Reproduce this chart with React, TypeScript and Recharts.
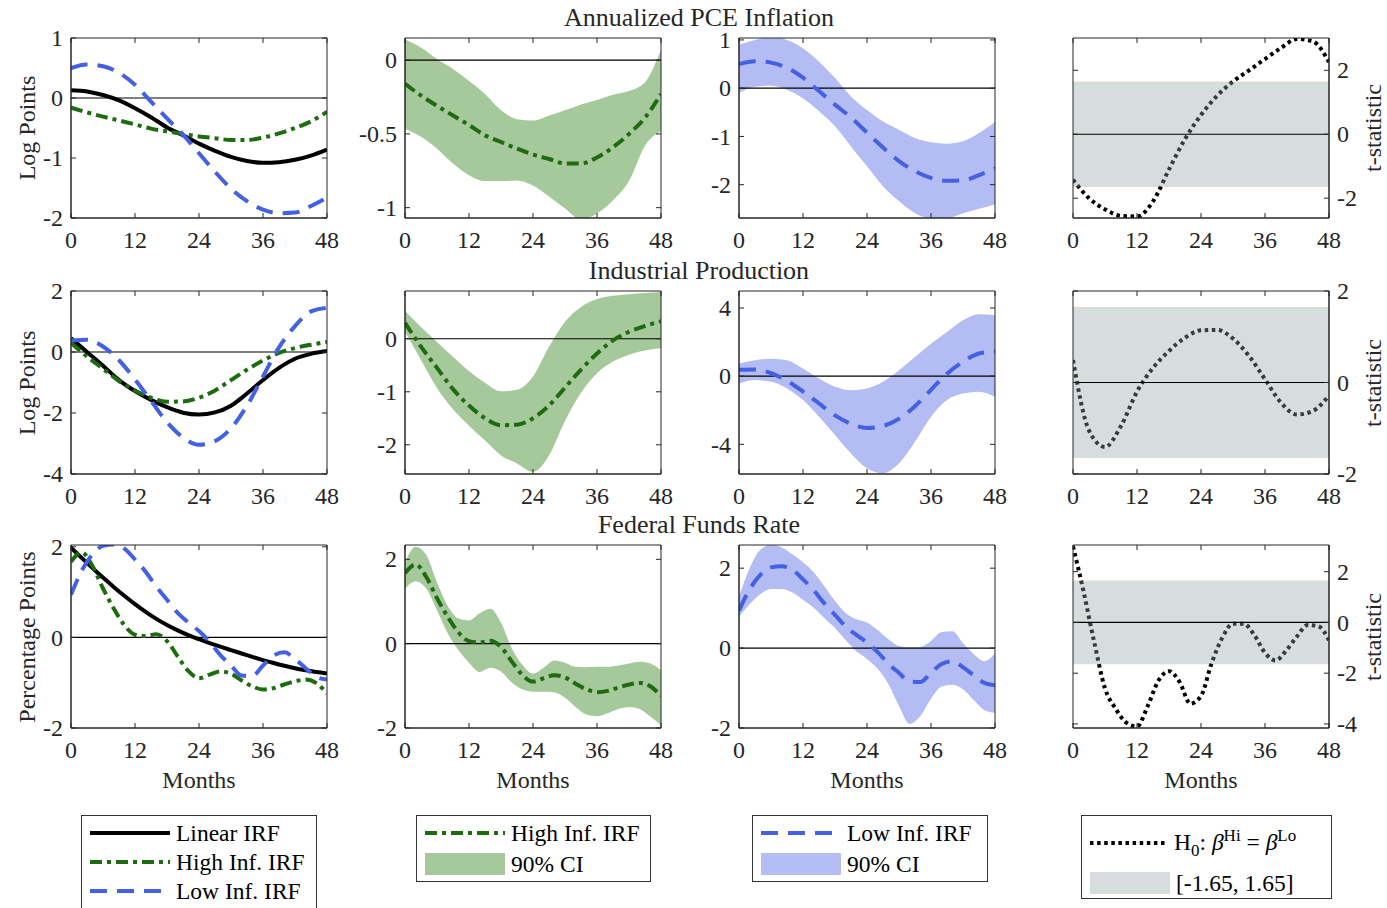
import React from 'react';
import { ComposedChart, Line, Area, XAxis, YAxis, ReferenceLine, ReferenceArea } from 'recharts';

const FONT = "'Liberation Serif', 'Times New Roman', serif";
const AX = '#262626';
const GREEN = '#1E6B10';
const BLUE = '#4561E3';
const GREEN_FILL = '#A6C99C';
const BLUE_FILL = '#B3BCF3';
const BAND_FILL = 'rgb(140,165,159)';
const BAND_OP = 0.37;

// ---------- data ----------
const monthsA = [0, 3, 6, 9, 12, 15, 18, 21, 24, 27, 30, 33, 36, 39, 42, 45, 48];
const monthsB = [0, 2, 4, 6, 8, 10, 12, 14, 16, 18, 20, 22, 24, 26, 28, 30, 32, 34, 36, 38, 40, 42, 44, 46, 48];
const xTicks = [0, 12, 24, 36, 48];
const bandLimits = [-1.65, 1.65];

// Annualized PCE Inflation
const pceLinear = [0.13, 0.11, 0.05, -0.04, -0.17, -0.32, -0.49, -0.62, -0.76, -0.88, -0.98, -1.05, -1.08, -1.07, -1.03, -0.96, -0.86];
const pceHigh = [-0.16, -0.24, -0.31, -0.375, -0.44, -0.51, -0.555, -0.6, -0.64, -0.67, -0.7, -0.7, -0.66, -0.59, -0.5, -0.39, -0.23];
const pceLow = [0.5, 0.56, 0.53, 0.42, 0.22, -0.06, -0.34, -0.61, -0.92, -1.23, -1.51, -1.72, -1.86, -1.92, -1.91, -1.8, -1.66];
const pceHighLo = [-0.465, -0.52, -0.6, -0.7, -0.78, -0.82, -0.82, -0.815, -0.85, -0.925, -1.005, -1.08, -1.04, -0.95, -0.82, -0.58, -0.48];
const pceHighHi = [0.14, 0.085, 0.007, -0.06, -0.14, -0.23, -0.34, -0.4, -0.41, -0.375, -0.34, -0.3, -0.27, -0.235, -0.21, -0.15, 0.07];
const pceLowLo = [-0.1, 0.03, 0.05, -0.03, -0.21, -0.48, -0.79, -1.21, -1.62, -2.03, -2.34, -2.59, -2.69, -2.69, -2.59, -2.5, -2.41];
const pceLowHi = [0.9, 1.0, 1.06, 1.0, 0.83, 0.55, 0.21, -0.17, -0.45, -0.69, -0.86, -1.03, -1.12, -1.15, -1.1, -0.93, -0.7];
const pceT = [-1.42, -2.0, -2.35, -2.55, -2.57, -2.1, -1.1, -0.15, 0.6, 1.2, 1.65, 2.0, 2.35, 2.7, 2.98, 2.9, 2.26];

// Industrial Production
const ipLinear = [0.45, 0.0, -0.45, -0.92, -1.28, -1.57, -1.81, -1.99, -2.05, -1.98, -1.76, -1.36, -0.92, -0.52, -0.22, -0.06, 0.03];
const ipHigh = [0.3, -0.15, -0.55, -0.95, -1.26, -1.5, -1.63, -1.62, -1.5, -1.26, -0.92, -0.58, -0.28, -0.03, 0.13, 0.24, 0.33];
const ipLow = [0.38, 0.4, 0.18, -0.27, -0.9, -1.6, -2.3, -2.8, -3.04, -2.92, -2.5, -1.76, -0.8, 0.15, 0.85, 1.33, 1.45];
const ipHighLo = [0.13, -0.4, -0.93, -1.33, -1.64, -1.92, -2.2, -2.35, -2.51, -2.2, -1.55, -1.02, -0.65, -0.43, -0.3, -0.22, -0.18];
const ipHighHi = [0.53, 0.22, -0.06, -0.34, -0.61, -0.83, -0.99, -0.96, -0.71, -0.15, 0.32, 0.6, 0.75, 0.81, 0.84, 0.86, 0.88];
const ipLowLo = [-0.43, -0.23, -0.33, -0.72, -1.4, -2.38, -3.45, -4.53, -5.4, -5.7, -5.11, -3.84, -2.38, -1.4, -1.01, -0.92, -1.21];
const ipLowHi = [0.74, 0.94, 1.03, 0.94, 0.45, -0.14, -0.62, -0.82, -0.72, -0.33, 0.35, 1.13, 1.91, 2.6, 3.28, 3.63, 3.57];
const ipT = [0.49, -1.05, -1.41, -0.95, -0.2, 0.32, 0.69, 0.98, 1.14, 1.15, 0.96, 0.58, 0.07, -0.44, -0.7, -0.62, -0.28];

// Federal Funds Rate
const ffrLinear = [1.98, 1.755, 1.535, 1.32, 1.115, 0.92, 0.735, 0.565, 0.41, 0.275, 0.155, 0.05, -0.04, -0.125, -0.205, -0.28, -0.355, -0.43, -0.5, -0.565, -0.625, -0.68, -0.725, -0.765, -0.795];
const ffrHigh = [1.67, 1.88, 1.58, 1.08, 0.64, 0.27, 0.06, 0.03, 0.07, -0.08, -0.42, -0.74, -0.9, -0.82, -0.75, -0.8, -0.95, -1.08, -1.15, -1.12, -1.04, -0.97, -0.93, -1.01, -1.24];
const ffrLow = [0.94, 1.47, 1.83, 2.02, 2.05, 1.96, 1.72, 1.45, 1.12, 0.83, 0.54, 0.33, 0.14, -0.1, -0.39, -0.62, -0.84, -0.85, -0.62, -0.4, -0.33, -0.48, -0.68, -0.87, -0.93];
const ffrHighLo = [1.3, 1.48, 1.3, 0.79, 0.25, -0.15, -0.45, -0.67, -0.57, -0.66, -0.92, -1.08, -1.14, -1.14, -1.15, -1.28, -1.5, -1.68, -1.72, -1.65, -1.55, -1.5, -1.55, -1.73, -1.93];
const ffrHighHi = [1.93, 2.3, 2.1, 1.45, 0.9, 0.6, 0.55, 0.72, 0.83, 0.5, -0.1, -0.5, -0.71, -0.57, -0.4, -0.45, -0.55, -0.56, -0.55, -0.55, -0.52, -0.47, -0.43, -0.47, -0.63];
const ffrLowLo = [0.79, 1.1, 1.35, 1.48, 1.48, 1.39, 1.21, 1.01, 0.75, 0.5, 0.2, -0.08, -0.27, -0.52, -0.9, -1.45, -1.9, -1.7, -1.27, -0.96, -0.92, -1.03, -1.3, -1.55, -1.62];
const ffrLowHi = [1.29, 2.0, 2.46, 2.58, 2.52, 2.35, 2.15, 1.9, 1.55, 1.18, 0.88, 0.72, 0.64, 0.45, 0.22, 0.05, 0.02, 0.03, 0.18, 0.4, 0.42, 0.12, -0.15, -0.33, -0.13];
const ffrT = [3.0, 1.2, -0.8, -2.6, -3.4, -3.95, -4.1, -3.3, -2.3, -1.92, -2.35, -3.2, -2.9, -1.6, -0.6, -0.05, -0.05, -0.5, -1.2, -1.5, -1.1, -0.55, -0.1, -0.15, -0.7];

// axis domains / ticks per panel: [irf, high, low, t]
const pceDomains = [[-2, 1], [-1.07, 0.15], [-2.69, 1.04], [-2.62, 3.01]];
const pceTicks = [[-2, -1, 0, 1], [-1, -0.5, 0], [-2, -1, 0, 1], [-2, 0, 2]];
const ipDomains = [[-4, 2], [-2.55, 0.9], [-5.74, 5], [-2, 2]];
const ipTicks = [[-4, -2, 0, 2], [-2, -1, 0], [-4, 0, 4], [-2, 0, 2]];
const ffrDomains = [[-2, 2.04], [-2, 2.34], [-2, 2.58], [-4.16, 3.05]];
const ffrTicks = [[-2, 0, 2], [-2, 0, 2], [-2, 0, 2], [-4, -2, 0, 2]];

const rowTitles = ['Annualized PCE Inflation', 'Industrial Production', 'Federal Funds Rate'];
const rowYLabels = ['Log Points', 'Log Points', 'Percentage Points'];

type Series = {
  linear: number[]; high: number[]; low: number[];
  highLo: number[]; highHi: number[]; lowLo: number[]; lowHi: number[]; t: number[];
};

const buildRows = (months: number[], s: Series) =>
  months.map((m, i) => ({
    m,
    linear: s.linear[i],
    high: s.high[i],
    low: s.low[i],
    highCI: [s.highLo[i], s.highHi[i]],
    lowCI: [s.lowLo[i], s.lowHi[i]],
    t: s.t[i],
  }));

const rowsData = [
  buildRows(monthsA, { linear: pceLinear, high: pceHigh, low: pceLow, highLo: pceHighLo, highHi: pceHighHi, lowLo: pceLowLo, lowHi: pceLowHi, t: pceT }),
  buildRows(monthsA, { linear: ipLinear, high: ipHigh, low: ipLow, highLo: ipHighLo, highHi: ipHighHi, lowLo: ipLowLo, lowHi: ipLowHi, t: ipT }),
  buildRows(monthsB, { linear: ffrLinear, high: ffrHigh, low: ffrLow, highLo: ffrHighLo, highHi: ffrHighHi, lowLo: ffrLowLo, lowHi: ffrLowHi, t: ffrT }),
];
const rowDomains = [pceDomains, ipDomains, ffrDomains];
const rowTicks = [pceTicks, ipTicks, ffrTicks];

// ---------- layout ----------
const COL_LEFT = [71, 405, 739, 1073];
const PLOT_W = 256;
const ROW_TOP = [38, 291, 545];
const ROW_H = [180, 183, 183];
const TICK_FS = 24;
const LABEL_FS = 24;
const TITLE_FS = 26;

const BLUE_DASH = '17 10';
const GREEN_DASH = '12 5 4 5';
const DOT_DASH = '3.5 3.6';

type PanelProps = {
  data: any[];
  left: number;
  top: number;
  h: number;
  kind: 'irf' | 'high' | 'low' | 't';
  domain: number[];
  ticks: number[];
};

const ML = 70;
const MR = 60;
const MT = 20;
const MB = 40;
const TM = 8;
const TL = 5;

function Panel({ data, left, top, h, kind, domain, ticks }: PanelProps) {
  const w = PLOT_W;
  const right = kind === 't';
  const XTick = (p: any) => {
    const base = p.y - TM;
    return (
      <g>
        <line x1={p.x} x2={p.x} y1={base} y2={base - TL} stroke={AX} strokeWidth={1} />
        <line x1={p.x} x2={p.x} y1={base - h} y2={base - h + TL} stroke={AX} strokeWidth={1} />
        <text x={p.x} y={p.y} dy="0.93em" textAnchor="middle" fontFamily={FONT} fontSize={TICK_FS} fill={AX}>
          {p.payload.value}
        </text>
      </g>
    );
  };
  const YTick = (p: any) => {
    const axisX = right ? p.x - TM : p.x + TM;
    const dir = right ? -1 : 1;
    return (
      <g>
        <line x1={axisX} x2={axisX + dir * TL} y1={p.y} y2={p.y} stroke={AX} strokeWidth={1} />
        <line x1={axisX + dir * w} x2={axisX + dir * (w - TL)} y1={p.y} y2={p.y} stroke={AX} strokeWidth={1} />
        <text x={p.x} y={p.y} dy="0.34em" textAnchor={right ? 'start' : 'end'} fontFamily={FONT} fontSize={TICK_FS} fill={AX}>
          {p.payload.value}
        </text>
      </g>
    );
  };
  return (
    <div style={{ position: 'absolute', left: left - ML, top: top - MT }}>
      <ComposedChart
        width={w + ML + MR}
        height={h + MT + MB}
        data={data}
        margin={{ top: MT, right: right ? 0 : MR, bottom: 0, left: right ? ML : 0 }}
      >
        <XAxis
          dataKey="m"
          type="number"
          domain={[0, 48]}
          ticks={xTicks}
          interval={0}
          allowDataOverflow
          height={MB}
          tickSize={0}
          tickMargin={TM}
          tick={XTick}
          axisLine={{ stroke: AX, strokeWidth: 1 }}
        />
        <YAxis
          type="number"
          domain={domain}
          ticks={ticks}
          interval={0}
          allowDataOverflow
          orientation={right ? 'right' : 'left'}
          width={right ? MR : ML}
          tickSize={0}
          tickMargin={TM}
          tick={YTick}
          axisLine={{ stroke: AX, strokeWidth: 1 }}
        />
        {kind === 'high' && (
          <Area dataKey="highCI" type="monotone" stroke="none" fill={GREEN_FILL} fillOpacity={1} isAnimationActive={false} dot={false} activeDot={false} />
        )}
        {kind === 'low' && (
          <Area dataKey="lowCI" type="monotone" stroke="none" fill={BLUE_FILL} fillOpacity={1} isAnimationActive={false} dot={false} activeDot={false} />
        )}
        {kind !== 't' && <ReferenceLine y={0} stroke="#000" strokeWidth={1.2} ifOverflow="hidden" />}
        {kind === 'irf' && (
          <Line dataKey="linear" type="monotone" stroke="#000" strokeWidth={4} dot={false} isAnimationActive={false} />
        )}
        {(kind === 'irf' || kind === 'high') && (
          <Line dataKey="high" type="monotone" stroke={GREEN} strokeWidth={4} strokeDasharray={GREEN_DASH} dot={false} isAnimationActive={false} />
        )}
        {(kind === 'irf' || kind === 'low') && (
          <Line dataKey="low" type="monotone" stroke={BLUE} strokeWidth={4} strokeDasharray={BLUE_DASH} dot={false} isAnimationActive={false} />
        )}
        {kind === 't' && (
          <Line dataKey="t" type="monotone" stroke="#000" strokeWidth={4} strokeDasharray={DOT_DASH} dot={false} isAnimationActive={false} />
        )}
        {kind === 't' && (
          <ReferenceArea y1={bandLimits[0]} y2={bandLimits[1]} fill={BAND_FILL} fillOpacity={BAND_OP} stroke="none" ifOverflow="hidden" {...({ zIndex: 450 } as any)} />
        )}
        {kind === 't' && <ReferenceLine y={0} stroke="#000" strokeWidth={1.2} ifOverflow="hidden" {...({ zIndex: 460 } as any)} />}
        <ReferenceArea y1={domain[0]} y2={domain[1]} fill="none" stroke={AX} strokeWidth={1} ifOverflow="visible" {...({ zIndex: 470 } as any)} />
      </ComposedChart>
    </div>
  );
}

const textBase: React.CSSProperties = {
  position: 'absolute',
  fontFamily: FONT,
  color: AX,
  whiteSpace: 'nowrap',
  lineHeight: 1,
};

function VText({ x, y, children }: { x: number; y: number; children: React.ReactNode }) {
  return (
    <div style={{ ...textBase, left: x, top: y, fontSize: LABEL_FS, transform: 'translate(-50%, -50%) rotate(-90deg)' }}>
      {children}
    </div>
  );
}

function CText({ x, y, size, children }: { x: number; y: number; size: number; children: React.ReactNode }) {
  return (
    <div style={{ ...textBase, left: x, top: y, fontSize: size, transform: 'translate(-50%, -50%)' }}>{children}</div>
  );
}

function LineIcon({ color, dash, width = 80 }: { color: string; dash?: string; width?: number }) {
  return (
    <svg width={width} height={10} style={{ display: 'block' }}>
      <line x1={0} x2={width} y1={5} y2={5} stroke={color} strokeWidth={4} strokeDasharray={dash} />
    </svg>
  );
}

function PatchIcon({ color }: { color: string }) {
  return <div style={{ width: 80, height: 22, background: color }} />;
}

function LegendRow({ icon, label, top }: { icon: React.ReactNode; label: React.ReactNode; top: number }) {
  return (
    <div style={{ position: 'absolute', left: 8, top, display: 'flex', alignItems: 'center', height: 26 }}>
      {icon}
      <span style={{ marginLeft: 6, fontSize: 23.5, fontFamily: FONT, color: '#000', whiteSpace: 'nowrap' }}>{label}</span>
    </div>
  );
}

function LegendBox({ left, width, height, children }: { left: number; width: number; height: number; children: React.ReactNode }) {
  return (
    <div
      style={{
        position: 'absolute',
        left,
        top: 815,
        width,
        height,
        border: '1px solid #333',
        background: '#fff',
        boxSizing: 'border-box',
      }}
    >
      {children}
    </div>
  );
}

export default function App() {
  const kinds: Array<'irf' | 'high' | 'low' | 't'> = ['irf', 'high', 'low', 't'];
  return (
    <div style={{ position: 'absolute', left: 0, top: 0, width: 1387, height: 908, background: '#fff', overflow: 'hidden', fontFamily: FONT }}>
      {rowsData.map((data, r) =>
        kinds.map((k, c) => (
          <Panel
            key={`${r}-${c}`}
            data={data}
            left={COL_LEFT[c]}
            top={ROW_TOP[r]}
            h={ROW_H[r]}
            kind={k}
            domain={rowDomains[r][c]}
            ticks={rowTicks[r][c]}
          />
        ))
      )}
      {rowTitles.map((t, r) => (
        <CText key={t} x={699} y={ROW_TOP[r] - 20} size={TITLE_FS}>
          {t}
        </CText>
      ))}
      {rowYLabels.map((t, r) => (
        <VText key={`yl${r}`} x={27} y={ROW_TOP[r] + ROW_H[r] / 2}>
          {t}
        </VText>
      ))}
      {ROW_TOP.map((top, r) => (
        <VText key={`tl${r}`} x={1373} y={top + ROW_H[r] / 2}>
          t-statistic
        </VText>
      ))}
      {COL_LEFT.map((l, c) => (
        <CText key={`mo${c}`} x={l + PLOT_W / 2} y={780} size={LABEL_FS}>
          Months
        </CText>
      ))}

      <LegendBox left={81} width={236} height={110}>
        <LegendRow top={4} icon={<LineIcon color="#000" />} label="Linear IRF" />
        <LegendRow top={33} icon={<LineIcon color={GREEN} dash={GREEN_DASH} />} label="High Inf. IRF" />
        <LegendRow top={62} icon={<LineIcon color={BLUE} dash={BLUE_DASH} />} label="Low Inf. IRF" />
      </LegendBox>
      <LegendBox left={416} width={235} height={67}>
        <LegendRow top={4} icon={<LineIcon color={GREEN} dash={GREEN_DASH} />} label="High Inf. IRF" />
        <LegendRow top={35} icon={<PatchIcon color={GREEN_FILL} />} label="90% CI" />
      </LegendBox>
      <LegendBox left={752} width={236} height={67}>
        <LegendRow top={4} icon={<LineIcon color={BLUE} dash={BLUE_DASH} />} label="Low Inf. IRF" />
        <LegendRow top={35} icon={<PatchIcon color={BLUE_FILL} />} label="90% CI" />
      </LegendBox>
      <LegendBox left={1081} width={251} height={84}>
        <LegendRow
          top={14}
          icon={<LineIcon color="#000" dash={DOT_DASH} width={78} />}
          label={
            <span>
              H<sub style={{ fontSize: 17 }}>0</sub>: <i>β</i>
              <sup style={{ fontSize: 17 }}>Hi</sup> = <i>β</i>
              <sup style={{ fontSize: 17 }}>Lo</sup>
            </span>
          }
        />
        <LegendRow top={54} icon={<PatchIcon color="#D5DEDC" />} label="[-1.65, 1.65]" />
      </LegendBox>
    </div>
  );
}
